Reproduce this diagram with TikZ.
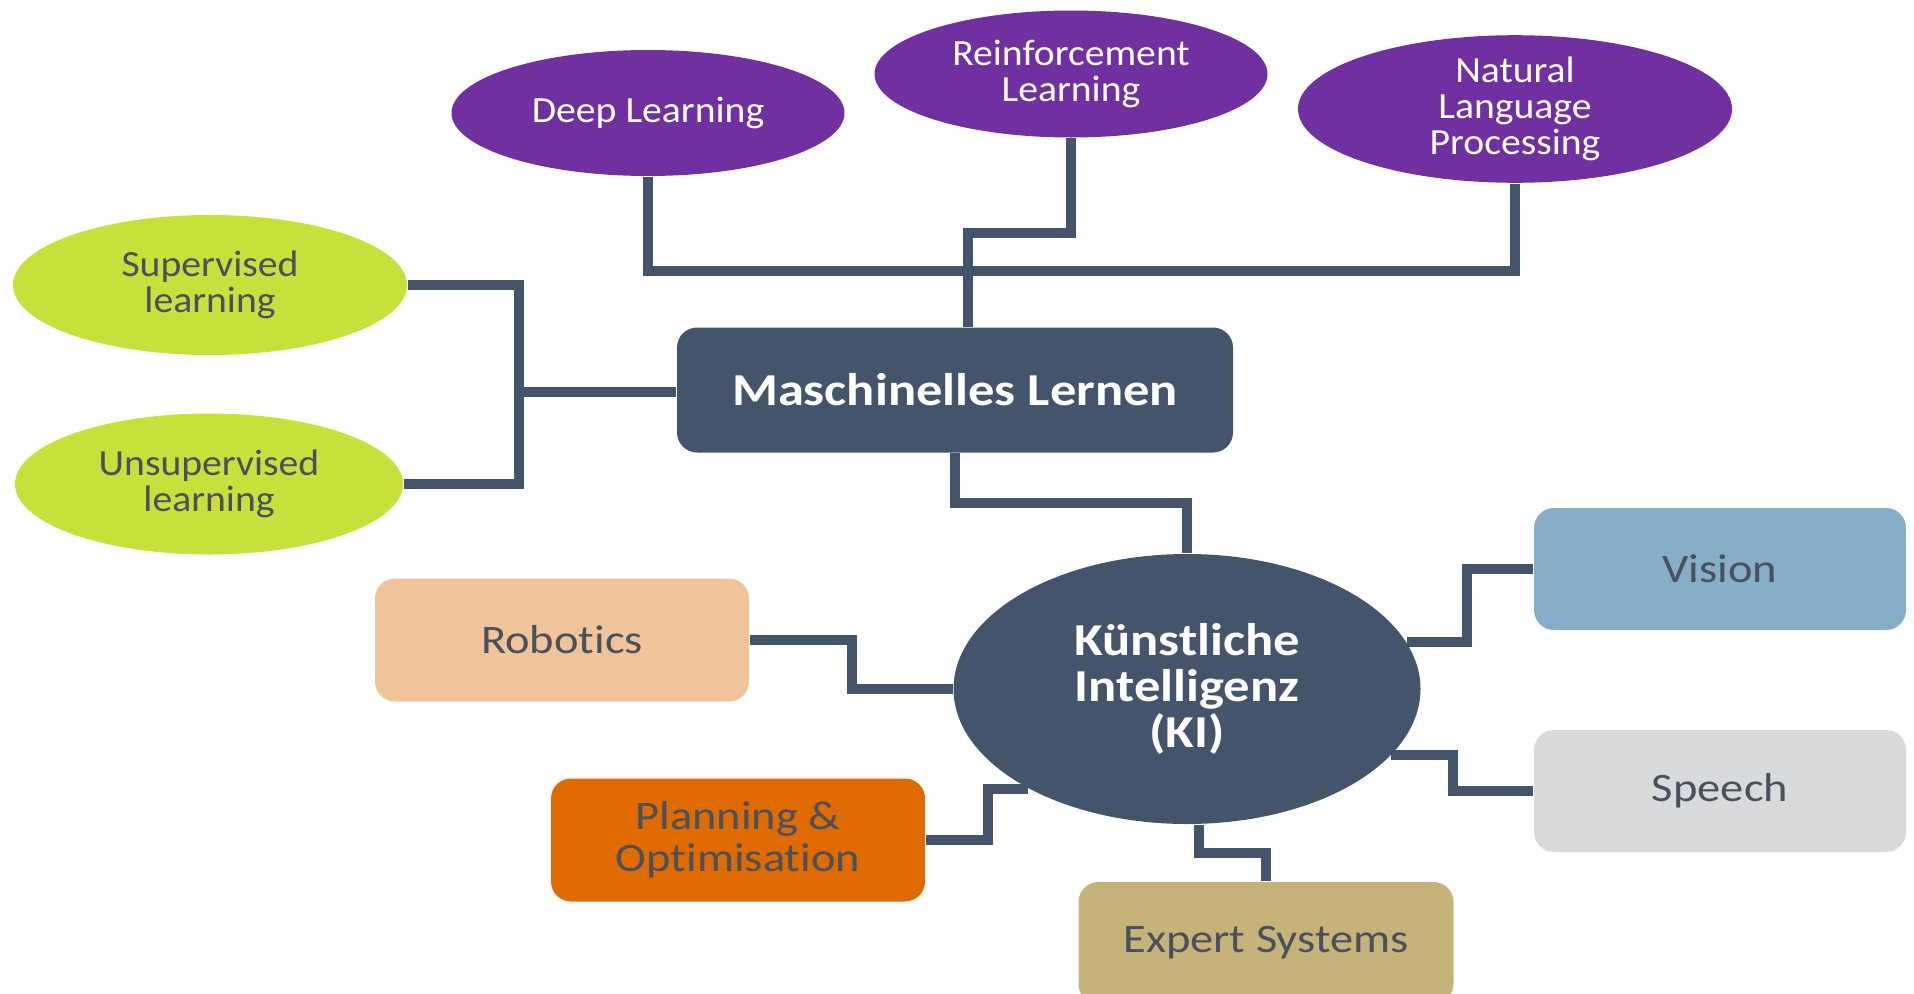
\documentclass[tikz,border=0pt]{standalone}
\usepackage{fontspec}
\setmainfont{Carlito}[FakeStretch=1.15,Ligatures=NoCommon]
\newfontfamily\ellfont{Carlito}[FakeStretch=1.075,Ligatures=NoCommon]
\usetikzlibrary{shapes,positioning,calc,backgrounds}
\definecolor{slate}{HTML}{44546A}
\definecolor{txtgray}{HTML}{4A505C}
\definecolor{mlpurple}{HTML}{7030A0}
\definecolor{lgreen}{HTML}{C8E03C}
\definecolor{peach}{HTML}{F0C49A}
\definecolor{orng}{HTML}{DF6B00}
\definecolor{skyblue}{HTML}{86AEC6}
\definecolor{lgray}{HTML}{D9DADC}
\definecolor{khaki}{HTML}{C6B37A}
\tikzset{
    ell/.style={ellipse,minimum height=1.26cm,minimum width=3.93cm,align=center,inner sep=0pt,font=\ellfont\fontsize{10.5}{10.3}\selectfont},
    purple_ell/.style={ell,fill=mlpurple,text=white},
    green_ell/.style={ell,fill=lgreen,text=txtgray,minimum height=1.4cm},
    topic/.style={rectangle,rounded corners=0.2cm,minimum width=3.74cm,minimum height=1.23cm,align=center,text=txtgray,font=\fontsize{11.5}{12}\selectfont},
    hub/.style={fill=slate,text=white,align=center,font=\fontsize{13}{13}\selectfont\bfseries},
    line/.style={-,line width=1mm,draw=slate},
}
\begin{document}
\begin{tikzpicture}
                \useasboundingbox (0,0) rectangle (19.14,-9.93);
                \clip (0,0) rectangle (19.14,-9.93);
                % Maschinelles Lernen
                \node[hub,rectangle,rounded corners=0.2cm,minimum width=5.56cm,minimum height=1.25cm] (ml) at (9.55,-3.90) {Maschinelles Lernen};
                \node[purple_ell] (dl) at (6.48,-1.13) {Deep Learning};
                \node[purple_ell,minimum height=1.27cm] (rl) at (10.71,-0.74) {Reinforcement\\Learning};
                \node[purple_ell,minimum width=4.34cm,minimum height=1.22cm] (nlp) at (15.15,-1.09) {Natural\\Language\\Processing};
                \node[green_ell,minimum width=3.94cm] (sup) at (2.10,-2.85) {Supervised\\learning};
                \node[green_ell,minimum width=3.88cm,minimum height=1.41cm] (unsup) at (2.09,-4.84) {Unsupervised\\learning};
                % Kuenstliche Intelligenz
                \node[hub,ellipse,minimum width=4.67cm,minimum height=2.70cm,inner sep=0pt] (ki) at (11.87,-6.89) {Künstliche\\Intelligenz\\(KI)};
                \node[topic,fill=skyblue,minimum width=3.72cm,minimum height=1.22cm] (vision) at (17.20,-5.69) {Vision};
                \node[topic,fill=lgray,minimum width=3.72cm,minimum height=1.22cm] (speech) at (17.20,-7.91) {Speech};
                \node[topic,fill=khaki,minimum width=3.75cm,minimum height=1.22cm] (expert) at (12.66,-9.43) {Expert Systems};
                \node[topic,fill=peach] (robotics) at (5.62,-6.40) {Robotics};
                \node[topic,fill=orng] (planning) at (7.38,-8.40) {Planning \&\\Optimisation};
                \coordinate (bar) at (0,-2.71);
                \coordinate (lj) at (5.19,-3.92);
                \begin{scope}[on background layer]
                \draw[line] (dl.south) |- (nlp.south |- bar) -- (nlp.south);
                \draw[line] (rl.south) |- ($(rl.south)!0.5!([xshift=1.3mm]ml.north)$) -| ([xshift=1.3mm]ml.north);
                \draw[line] (sup.east) -| (lj) |- (unsup.east);
                \draw[line] (lj) -- (ml.west |- lj);
                \draw[line] (ml.south) |- ($(ml.south)!0.5!(ki.north)$) -| (ki.north);
                \draw[line] (ki.12) -- ++(0.6,0) |- (vision.west);
                \draw[line] (ki.-18) -- ++(0.62,0) |- (speech.west);
                \draw[line] (ki.-85) |- ($(ki.-85)!0.5!(expert.north)$) -| (expert.north);
                \draw[line] (ki.212) -- ++(-0.4,0) |- (planning.east);
                \draw[line] (robotics.east) -- ++(1.02,0) |- (ki.west);
                \end{scope}
            \end{tikzpicture}
\end{document}
